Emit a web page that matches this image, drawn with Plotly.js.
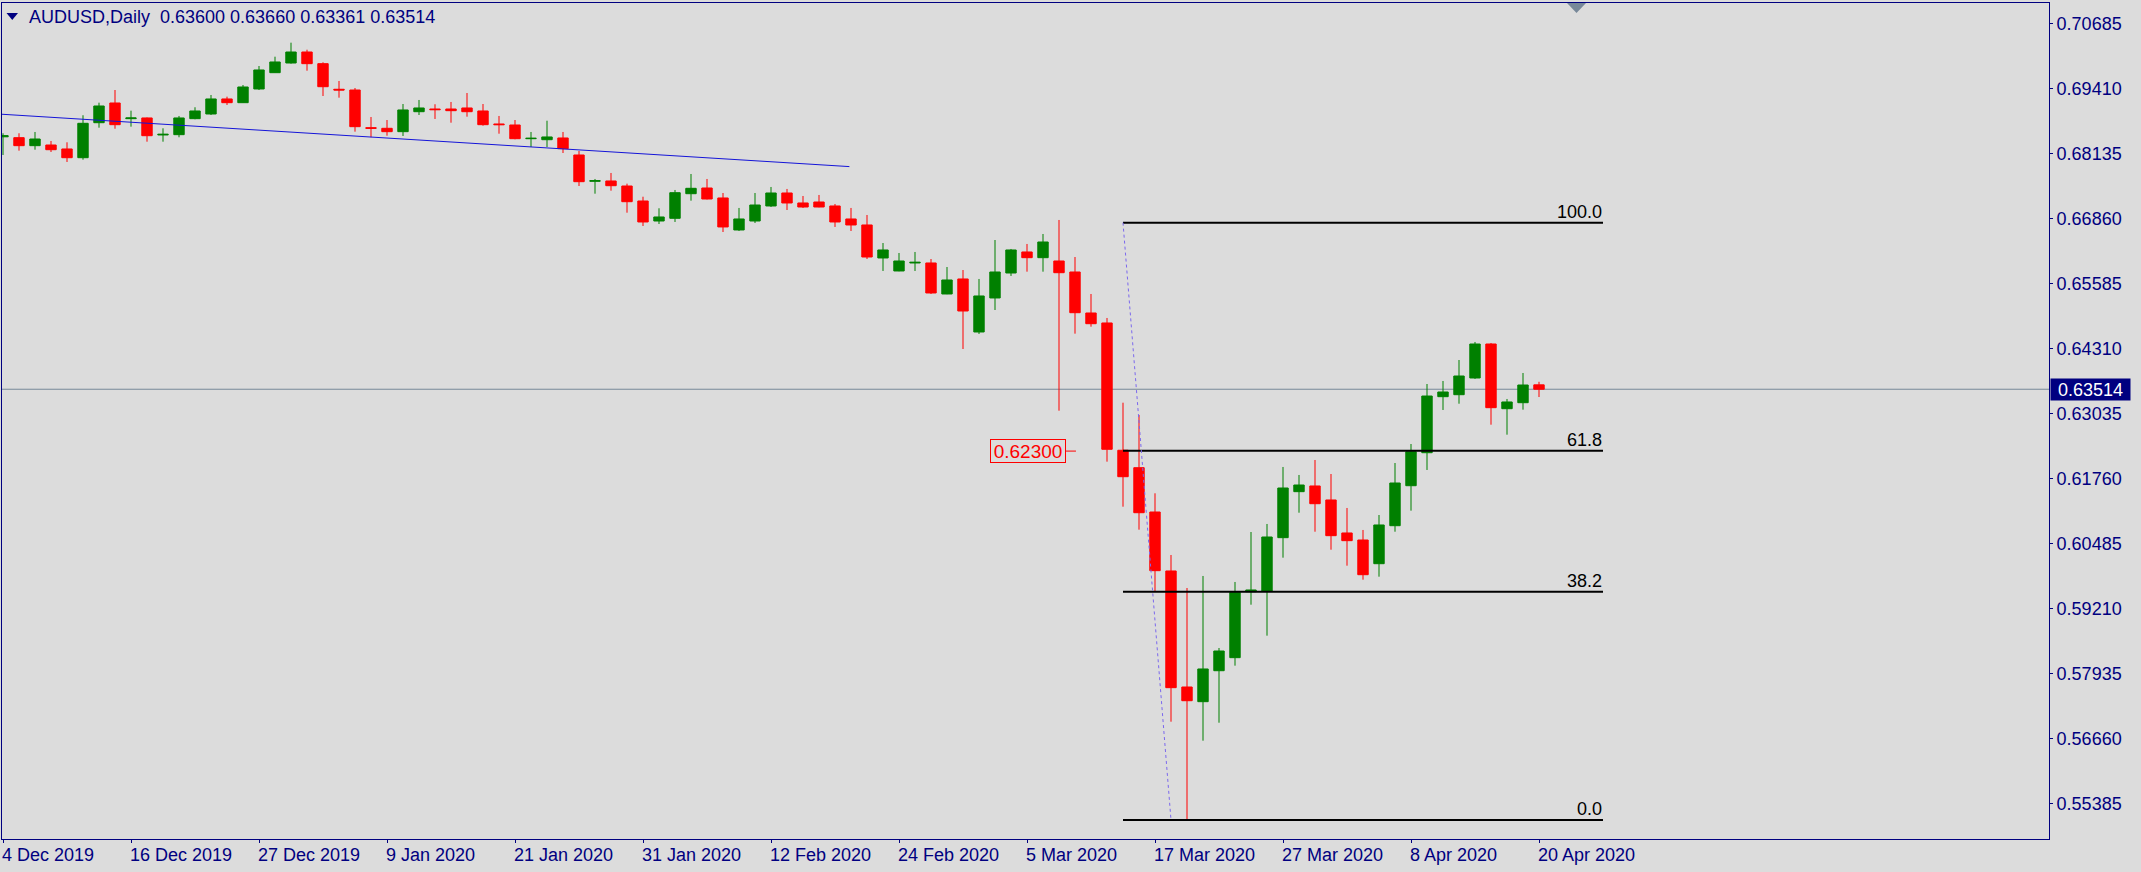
<!DOCTYPE html>
<html><head><meta charset="utf-8">
<script src="https://cdn.plot.ly/plotly-3.0.1.min.js"></script>
<style>html,body{margin:0;padding:0;background:#DCDCDC;overflow:hidden}#chart{width:2141px;height:872px}</style>
</head><body><div id="chart"></div>
<script>
const dates = [
'2019-12-04','2019-12-05','2019-12-06','2019-12-09','2019-12-10','2019-12-11','2019-12-12','2019-12-13',
'2019-12-16','2019-12-17','2019-12-18','2019-12-19','2019-12-20','2019-12-23','2019-12-24','2019-12-26',
'2019-12-27','2019-12-30','2019-12-31','2020-01-02','2020-01-03','2020-01-06','2020-01-07','2020-01-08',
'2020-01-09','2020-01-10','2020-01-13','2020-01-14','2020-01-15','2020-01-16','2020-01-17','2020-01-20',
'2020-01-21','2020-01-22','2020-01-23','2020-01-24','2020-01-27','2020-01-28','2020-01-29','2020-01-30',
'2020-01-31','2020-02-03','2020-02-04','2020-02-05','2020-02-06','2020-02-07','2020-02-10','2020-02-11',
'2020-02-12','2020-02-13','2020-02-14','2020-02-17','2020-02-18','2020-02-19','2020-02-20','2020-02-21',
'2020-02-24','2020-02-25','2020-02-26','2020-02-27','2020-02-28','2020-03-02','2020-03-03','2020-03-04',
'2020-03-05','2020-03-06','2020-03-09','2020-03-10','2020-03-11','2020-03-12','2020-03-13','2020-03-16',
'2020-03-17','2020-03-18','2020-03-19','2020-03-20','2020-03-23','2020-03-24','2020-03-25','2020-03-26',
'2020-03-27','2020-03-30','2020-03-31','2020-04-01','2020-04-02','2020-04-03','2020-04-06','2020-04-07',
'2020-04-08','2020-04-09','2020-04-10','2020-04-13','2020-04-14','2020-04-15','2020-04-16','2020-04-17',
'2020-04-20'];

const open = [
0.68470,0.68453,0.68296,0.68309,0.68231,0.68060,0.68747,0.69134,
0.68826,0.68840,0.68506,0.68512,0.68826,0.68918,0.69213,0.69140,
0.69409,0.69729,0.69919,0.70135,0.69906,0.69403,0.69389,0.68649,
0.68637,0.68571,0.68963,0.69016,0.69016,0.69036,0.68977,0.68722,
0.68702,0.68433,0.68413,0.68447,0.68113,0.67597,0.67603,0.67504,
0.67210,0.66817,0.66870,0.67353,0.67465,0.67269,0.66641,0.66817,
0.67112,0.67367,0.67171,0.67190,0.67112,0.66857,0.66739,0.66091,
0.65836,0.65993,0.65993,0.65384,0.65679,0.64638,0.65306,0.65796,
0.66209,0.66097,0.66032,0.65816,0.65011,0.64815,0.62316,0.61974,
0.61104,0.59946,0.57668,0.57380,0.57988,0.58244,0.59539,0.59553,
0.60600,0.61503,0.61615,0.61340,0.60692,0.60554,0.60089,0.60835,
0.61620,0.62268,0.63368,0.63407,0.63735,0.64402,0.63132,0.63250,
0.63600];
const high = [
0.68539,0.68539,0.68565,0.68388,0.68362,0.68893,0.69140,0.69389,
0.68983,0.68850,0.68637,0.68879,0.69050,0.69291,0.69258,0.69487,
0.69860,0.70043,0.70318,0.70180,0.69933,0.69566,0.69428,0.68859,
0.68800,0.69114,0.69193,0.69109,0.69154,0.69330,0.69114,0.68879,
0.68800,0.68565,0.68786,0.68565,0.68192,0.67642,0.67760,0.67550,
0.67294,0.67067,0.67426,0.67740,0.67642,0.67367,0.67073,0.67367,
0.67485,0.67446,0.67308,0.67328,0.67151,0.67073,0.66935,0.66385,
0.66189,0.66209,0.66071,0.65914,0.65855,0.65679,0.66444,0.66268,
0.66366,0.66562,0.66837,0.66110,0.65384,0.64913,0.63250,0.63009,
0.61471,0.60260,0.59612,0.59848,0.58434,0.59730,0.60711,0.60869,
0.61988,0.61831,0.62125,0.61850,0.61183,0.60751,0.61045,0.62066,
0.62439,0.63617,0.63676,0.64088,0.64442,0.64422,0.63323,0.63833,
0.63660];
const low = [
0.68113,0.68198,0.68217,0.68172,0.67976,0.68021,0.68649,0.68629,
0.68669,0.68374,0.68374,0.68461,0.68814,0.68898,0.69095,0.69135,
0.69389,0.69725,0.69906,0.69768,0.69271,0.69238,0.68571,0.68461,
0.68492,0.68486,0.68898,0.68820,0.68747,0.68865,0.68688,0.68531,
0.68421,0.68270,0.68270,0.68152,0.67504,0.67353,0.67412,0.66980,
0.66719,0.66758,0.66798,0.67216,0.67240,0.66601,0.66621,0.66778,
0.67092,0.67033,0.67073,0.67085,0.66700,0.66621,0.66071,0.65836,
0.65830,0.65836,0.65384,0.65380,0.64304,0.64599,0.65070,0.65738,
0.65822,0.65822,0.63093,0.64605,0.64742,0.62092,0.61208,0.60757,
0.59539,0.56987,0.55057,0.56614,0.56967,0.58087,0.59284,0.58676,
0.60207,0.61090,0.60717,0.60364,0.60050,0.59775,0.59834,0.60717,
0.61130,0.61929,0.63107,0.63230,0.63716,0.62818,0.62622,0.63113,
0.63361];
const close = [
0.68490,0.68296,0.68427,0.68217,0.68060,0.68735,0.69075,0.68708,
0.68840,0.68492,0.68519,0.68840,0.68977,0.69213,0.69140,0.69448,
0.69782,0.69939,0.70135,0.69906,0.69454,0.69389,0.68669,0.68637,
0.68571,0.68997,0.69036,0.69003,0.68983,0.68963,0.68708,0.68708,
0.68433,0.68441,0.68467,0.68237,0.67589,0.67609,0.67510,0.67196,
0.66798,0.66896,0.67373,0.67459,0.67249,0.66700,0.66857,0.67131,
0.67367,0.67171,0.67092,0.67092,0.66798,0.66739,0.66110,0.66248,
0.66032,0.66006,0.65404,0.65659,0.65050,0.65345,0.65816,0.66248,
0.66097,0.66405,0.65802,0.65017,0.64801,0.62335,0.61797,0.61090,
0.59952,0.57655,0.57399,0.58022,0.58375,0.59527,0.59573,0.60613,
0.61575,0.61634,0.61267,0.60639,0.60541,0.59873,0.60849,0.61673,
0.62288,0.63381,0.63460,0.63774,0.64402,0.63152,0.63264,0.63597,
0.63514];

const tickDates = ['2019-12-04','2019-12-16','2019-12-27','2020-01-09','2020-01-21','2020-01-31','2020-02-12',
  '2020-02-24','2020-03-05','2020-03-17','2020-03-27','2020-04-08','2020-04-20'];
const tickLabels = ['4 Dec 2019','16 Dec 2019','27 Dec 2019','9 Jan 2020','21 Jan 2020','31 Jan 2020','12 Feb 2020',
  '24 Feb 2020','5 Mar 2020','17 Mar 2020','27 Mar 2020','8 Apr 2020','20 Apr 2020'];
const yTicks = [0.70685,0.69410,0.68135,0.66860,0.65585,0.64310,0.63035,0.61760,0.60485,0.59210,0.57935,0.56660,0.55385];

// drawn objects (price anchors)
const trendPrices = [0.68931, 0.67885];     // trend line anchors
const fibPrices = [0.66784, 0.55057];       // fibonacci 100 / 0 anchors
const fibLevels = [100, 61.8, 38.2, 0];
const fibLabels = ['100.0','61.8','38.2','0.0'];
const priceTag = 0.62300;

const FONT = 'Liberation Sans, Arial, sans-serif';
const NAVY = '#000080';
const x = dates.map((d, i) => i);
const tickPos = tickDates.map(d => dates.indexOf(d));
const n = close.length;
const last = n - 1;

// plot-area pixel helpers (decorations only)
const L = 2, R = 92, T = 3, B = 33, W = 2141, H = 872;
const pw = W - L - R, ph = H - T - B;
const px = p => (p - L) / pw;
const py = p => 1 - (p - T) / ph;

const trace = {
  type: 'candlestick', x: x, open: open, high: high, low: low, close: close,
  increasing: {line: {color: '#008000', width: 1}, fillcolor: '#008000'},
  decreasing: {line: {color: '#FF0000', width: 1}, fillcolor: '#FF0000'},
  whiskerwidth: 0, showlegend: false, hoverinfo: 'skip'
};

const shapes = [];
// current price line
shapes.push({type: 'line', xref: 'paper', x0: 0, x1: 1, yref: 'y', y0: close[last], y1: close[last],
  line: {color: '#778899', width: 1}, layer: 'below'});
// trend line
shapes.push({type: 'line', xref: 'x', yref: 'y', x0: -1, x1: 52.9, y0: trendPrices[0], y1: trendPrices[1],
  line: {color: '#1414D8', width: 1}, layer: 'above'});
// fibonacci
const fibStart = 70, fibEnd = 100, fibLowIdx = 73;
fibLevels.forEach(lv => {
  const p = fibPrices[1] + (fibPrices[0] - fibPrices[1]) * lv / 100;
  shapes.push({type: 'line', xref: 'x', yref: 'y', x0: fibStart, x1: fibEnd, y0: p, y1: p,
    line: {color: '#000000', width: 2}, layer: 'above'});
});
shapes.push({type: 'line', xref: 'x', yref: 'y', x0: fibStart, x1: fibLowIdx, y0: fibPrices[0], y1: fibPrices[1],
  line: {color: '#7B68EE', width: 1, dash: '3px,3px'}, layer: 'above'});
// price tag tick
shapes.push({type: 'line', xref: 'x', yref: 'y', x0: 66.44, x1: 67.06, y0: priceTag, y1: priceTag,
  line: {color: '#FF0000', width: 1}, layer: 'above'});
// title triangle & shift marker
shapes.push({type: 'path', xref: 'paper', yref: 'paper',
  path: `M ${px(6.5)} ${py(13)} L ${px(18)} ${py(13)} L ${px(12.25)} ${py(20)} Z`,
  fillcolor: NAVY, line: {width: 0}});
shapes.push({type: 'path', xref: 'paper', yref: 'paper',
  path: `M ${px(1567)} ${py(3)} L ${px(1586)} ${py(3)} L ${px(1576.5)} ${py(13)} Z`,
  fillcolor: '#778899', line: {width: 0}});

const annotations = [];
tickLabels.forEach((t, k) => {
  annotations.push({xref: 'x', x: tickPos[k], yref: 'paper', y: 0, xanchor: 'left', yanchor: 'top',
    xshift: -2, yshift: -5, text: t, showarrow: false, borderpad: 0,
    font: {family: FONT, size: 18, color: NAVY}});
});
fibLevels.forEach((lv, k) => {
  const p = fibPrices[1] + (fibPrices[0] - fibPrices[1]) * lv / 100;
  annotations.push({xref: 'x', x: fibEnd, yref: 'y', y: p, xanchor: 'right', yanchor: 'bottom',
    yshift: 0, text: fibLabels[k], showarrow: false, borderpad: 0,
    font: {family: FONT, size: 18, color: '#000000'}});
});
annotations.push({xref: 'x', x: 66.44, yref: 'y', y: priceTag, xanchor: 'right', yanchor: 'middle',
  text: priceTag.toFixed(5), showarrow: false, bordercolor: '#FF0000', borderwidth: 1, borderpad: 0,
  width: 74, height: 22, font: {family: FONT, size: 19, color: '#FF0000'}});
annotations.push({xref: 'paper', x: 1, yref: 'y', y: close[last], xanchor: 'left', yanchor: 'middle',
  xshift: 1, text: close[last].toFixed(5), showarrow: false, bgcolor: NAVY, borderpad: 0,
  width: 79, height: 21, font: {family: FONT, size: 18, color: '#FFFFFF'}});

const titleText = 'AUDUSD,Daily\u00a0\u00a0' + [open[last], high[last], low[last], close[last]].map(v => v.toFixed(5)).join(' ');

const layout = {
  width: W, height: H,
  margin: {l: L, r: R, t: T, b: B, pad: 0},
  paper_bgcolor: '#DCDCDC', plot_bgcolor: '#DCDCDC',
  boxgap: 0.35, boxgroupgap: 0,
  title: {text: titleText, xref: 'container', yref: 'container', x: 29 / W, xanchor: 'left',
    y: 1 - 17 / H, yanchor: 'middle', font: {family: FONT, size: 18, color: NAVY}},
  xaxis: {range: [(L - 3) / 16, (W - R - 3) / 16], rangeslider: {visible: false},
    showgrid: false, zeroline: false, showline: true, mirror: true, linecolor: NAVY, linewidth: 1,
    ticks: 'outside', ticklen: 3, tickcolor: NAVY, tickvals: tickPos, showticklabels: false, fixedrange: true},
  yaxis: {side: 'right', range: [0.54684, 0.71097], showgrid: false, zeroline: false,
    showline: true, mirror: true, linecolor: NAVY, linewidth: 1,
    ticks: 'outside', ticklen: 3, tickcolor: NAVY, tickvals: yTicks, ticktext: yTicks.map(v => v.toFixed(5)),
    tickfont: {family: FONT, size: 18, color: NAVY}, fixedrange: true},
  shapes: shapes, annotations: annotations, showlegend: false, hovermode: false
};

Plotly.newPlot('chart', [trace], layout, {displayModeBar: false, staticPlot: true});
</script></body></html>
